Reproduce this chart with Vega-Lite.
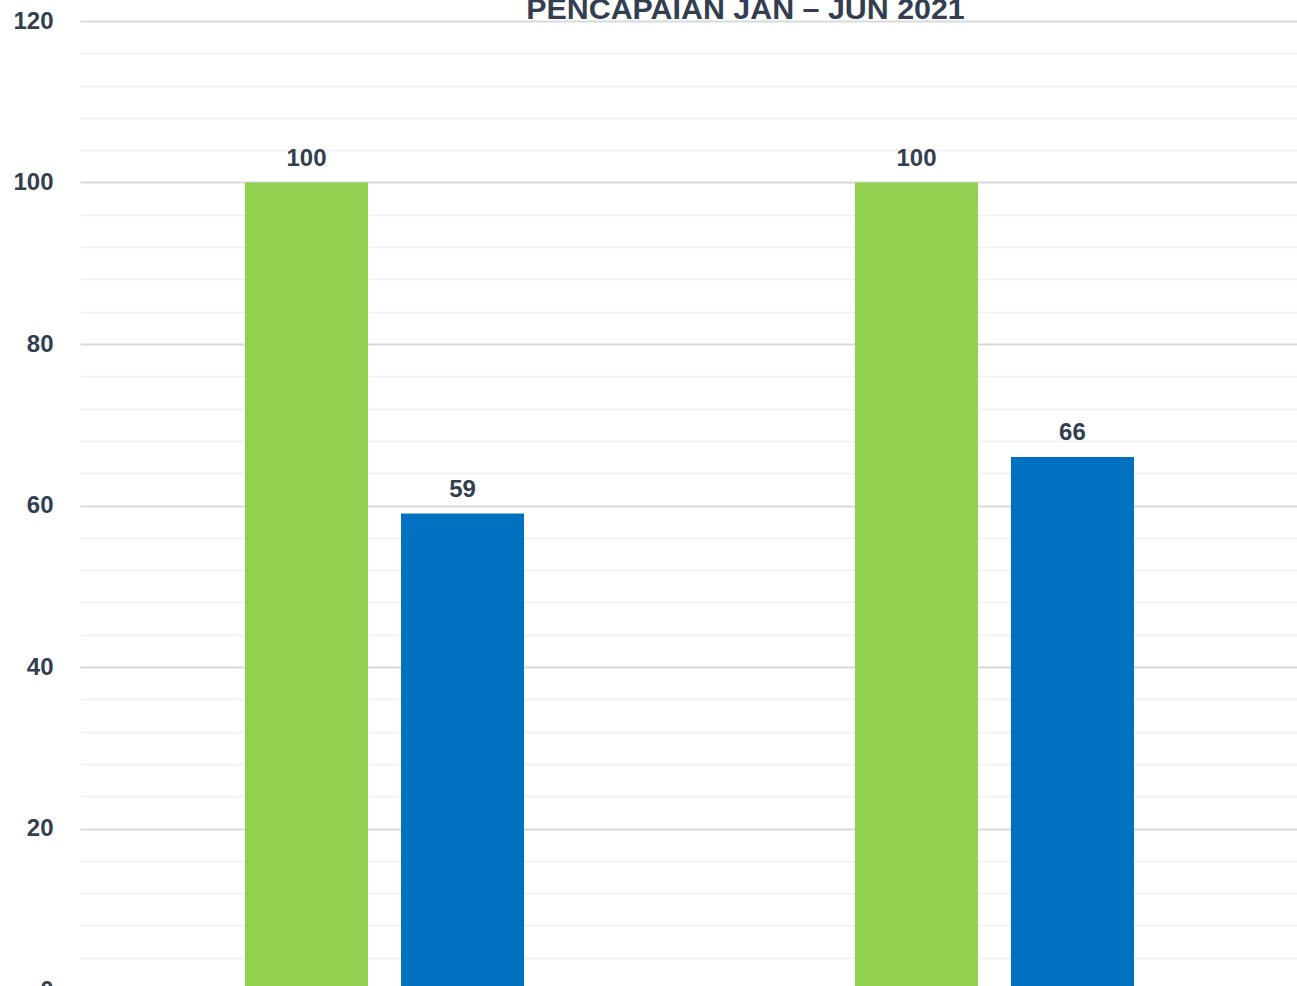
{
  "$schema": "https://vega.github.io/schema/vega-lite/v6.json",
  "autosize": {"type": "none"},
  "width": 1217,
  "height": 969,
  "padding": {"left": 80, "top": 21, "right": 0, "bottom": 0},
  "background": "white",
  "config": {"view": {"stroke": null}, "font": "Liberation Sans"},
  "title": {
    "text": "PENCAPAIAN JAN – JUN 2021",
    "font": "Liberation Sans",
    "fontSize": 30.4,
    "fontWeight": "bold",
    "color": "#333F50",
    "anchor": "middle",
    "baseline": "alphabetic",
    "offset": 0,
    "dx": 57,
    "dy": 40
  },
  "data": {
    "values": [
      {"kategori": "Kategori 1", "siri": "Sasaran", "nilai": 100},
      {"kategori": "Kategori 1", "siri": "Pencapaian", "nilai": 59},
      {"kategori": "Kategori 2", "siri": "Sasaran", "nilai": 100},
      {"kategori": "Kategori 2", "siri": "Pencapaian", "nilai": 66}
    ]
  },
  "encoding": {
    "x": {"field": "kategori", "type": "nominal", "axis": null, "scale": {"paddingInner": 0.5426, "paddingOuter": 0.2689, "align": 0.503, "round": false}},
    "xOffset": {"field": "siri", "type": "nominal", "sort": ["Sasaran", "Pencapaian"], "scale": {"paddingInner": 0.2115, "paddingOuter": 0, "round": false}},
    "y": {
      "field": "nilai",
      "type": "quantitative",
      "scale": {"domain": [0, 120], "nice": false},
      "axis": {
        "title": null,
        "values": [0,4,8,12,16,20,24,28,32,36,40,44,48,52,56,60,64,68,72,76,80,84,88,92,96,100,104,108,112,116,120],
        "labelExpr": "datum.value % 20 === 0 ? datum.label : ''",
        "labelFont": "Liberation Sans",
        "labelFontSize": 24,
        "labelFontWeight": "bold",
        "labelColor": "#333F50",
        "labelPadding": 27,
        "ticks": false,
        "domain": false,
        "grid": true,
        "gridColor": {"condition": {"test": "datum.value % 20 === 0", "value": "#d9d9d9"}, "value": "#f0f0f0"},
        "gridWidth": {"condition": {"test": "datum.value % 20 === 0", "value": 2}, "value": 1.5}
      }
    }
  },
  "layer": [
    {
      "mark": {"type": "bar"},
      "encoding": {
        "color": {
          "field": "siri",
          "type": "nominal",
          "scale": {"domain": ["Sasaran", "Pencapaian"], "range": ["#92D050", "#0070C0"]},
          "legend": null
        }
      }
    },
    {
      "mark": {"type": "text", "baseline": "alphabetic", "dy": -17, "font": "Liberation Sans", "fontSize": 24, "fontWeight": "bold", "color": "#333F50"},
      "encoding": {"text": {"field": "nilai", "type": "quantitative"}}
    }
  ]
}
